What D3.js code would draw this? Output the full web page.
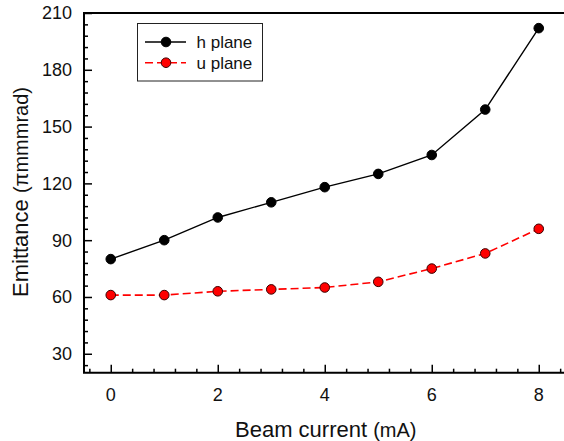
<!DOCTYPE html>
<html>
<head>
<meta charset="utf-8">
<script src="https://cdn.jsdelivr.net/npm/d3@7"></script>
<style>
  html, body { margin: 0; padding: 0; background: #fff; }
  svg { display: block; font-family: "Liberation Sans", Arial, sans-serif; }
</style>
</head>
<body>
<svg id="chart" width="564" height="441"></svg>
<script>
// Beam current (mA) and emittance in both planes
const current = [0, 1, 2, 3, 4, 5, 6, 7, 8];
const hPlane = [80, 90, 102, 110, 118, 125, 135, 159, 202];
const uPlane = [61, 61, 63, 64, 65, 68, 75, 83, 96];
const xMajorTicks = [0, 2, 4, 6, 8];
const yMajorTicks = [30, 60, 90, 120, 150, 180, 210];
const seriesNames = ["h plane", "u plane"];

const svg = d3.select("#chart");
const plotLeft = 84, plotTop = 13, plotBottom = 372.7;

const x = d3.scaleLinear().domain([-0.5, 8.5]).range([plotLeft, plotLeft + 9 * 53.5]);
const y = d3.scaleLinear().domain([20, 210]).range([plotBottom, plotTop]);

// minor tick positions
const xMinor = d3.range(-0.4, 8.41, 0.4).filter(v => !xMajorTicks.some(m => Math.abs(m - v) < 1e-6));
const yMinor = d3.range(24, 210, 6).filter(v => !yMajorTicks.includes(v));

// frame (right side runs past the visible edge)
svg.append("path")
  .attr("d", `M${x.range()[1]},${plotTop}H${plotLeft}V${plotBottom}H${x.range()[1]}`)
  .attr("fill", "none").attr("stroke", "#000").attr("stroke-width", 2);

// x axis: ticks point inward
const xAxis = svg.append("g").attr("transform", `translate(0,${plotBottom})`);
xAxis.call(d3.axisTop(x).tickValues(xMajorTicks).tickSize(8).tickFormat(""))
  .call(g => g.select(".domain").remove());
xAxis.append("g").call(d3.axisTop(x).tickValues(xMinor).tickSize(4).tickFormat(""))
  .call(g => g.select(".domain").remove());
xAxis.selectAll("line").attr("stroke-width", 1.5);
xAxis.selectAll(".lbl").data(xMajorTicks).join("text")
  .attr("class", "lbl")
  .attr("x", d => x(d)).attr("y", 28)
  .attr("text-anchor", "middle").attr("font-size", 18).attr("fill", "#111")
  .text(d => d);

// y axis: ticks point inward
const yAxis = svg.append("g").attr("transform", `translate(${plotLeft},0)`);
yAxis.call(d3.axisRight(y).tickValues(yMajorTicks).tickSize(8).tickFormat(""))
  .call(g => g.select(".domain").remove());
yAxis.append("g").call(d3.axisRight(y).tickValues(yMinor).tickSize(4).tickFormat(""))
  .call(g => g.select(".domain").remove());
yAxis.selectAll("line").attr("stroke-width", 1.5);
yAxis.selectAll(".lbl").data(yMajorTicks).join("text")
  .attr("class", "lbl")
  .attr("x", -12).attr("y", d => y(d)).attr("dy", "0.36em")
  .attr("text-anchor", "end").attr("font-size", 18).attr("fill", "#111")
  .text(d => d);

// axis titles
const xt = svg.append("text").attr("x", 235).attr("y", 437)
  .attr("font-size", 22).attr("fill", "#111");
xt.append("tspan").text("Beam current ");
xt.append("tspan").attr("font-size", 20).text("(mA)");

const yt = svg.append("text")
  .attr("transform", "translate(28,297) rotate(-90)")
  .attr("font-size", 22).attr("fill", "#111");
yt.append("tspan").text("Emittance ");
yt.append("tspan").attr("font-size", 20).text("(πmmmrad)");

// series
const line = vals => d3.line().x((d, i) => x(current[i])).y(d => y(d))(vals);

svg.append("path").attr("d", line(hPlane))
  .attr("fill", "none").attr("stroke", "#000").attr("stroke-width", 1.4);
svg.append("path").attr("d", line(uPlane))
  .attr("fill", "none").attr("stroke", "#ff0000").attr("stroke-width", 1.6)
  .attr("stroke-dasharray", "8,4");

svg.append("g").selectAll("circle").data(hPlane).join("circle")
  .attr("cx", (d, i) => x(current[i])).attr("cy", d => y(d)).attr("r", 4.8)
  .attr("fill", "#000").attr("stroke", "#000").attr("stroke-width", 1);
svg.append("g").selectAll("circle").data(uPlane).join("circle")
  .attr("cx", (d, i) => x(current[i])).attr("cy", d => y(d)).attr("r", 4.8)
  .attr("fill", "#ff0000").attr("stroke", "#3a0000").attr("stroke-width", 1);

// legend
const lg = svg.append("g");
lg.append("rect").attr("x", 137.5).attr("y", 23.5).attr("width", 125).attr("height", 57.5)
  .attr("fill", "#fff").attr("stroke", "#222").attr("stroke-width", 1);
const legendStyles = [
  { stroke: "#000", dash: null, fill: "#000", ring: "#000", width: 1.4 },
  { stroke: "#ff0000", dash: "8,4", fill: "#ff0000", ring: "#3a0000", width: 1.6 }
];
seriesNames.forEach((name, i) => {
  const cy = 42 + i * 20.7;
  const s = legendStyles[i];
  lg.append("line").attr("x1", 145).attr("x2", 186).attr("y1", cy).attr("y2", cy)
    .attr("stroke", s.stroke).attr("stroke-width", s.width)
    .attr("stroke-dasharray", s.dash);
  lg.append("circle").attr("cx", 166).attr("cy", cy).attr("r", 4.8)
    .attr("fill", s.fill).attr("stroke", s.ring).attr("stroke-width", 1);
  lg.append("text").attr("x", 196.5).attr("y", cy).attr("dy", "0.36em")
    .attr("font-size", 17).attr("fill", "#111").text(name);
});
</script>
</body>
</html>
